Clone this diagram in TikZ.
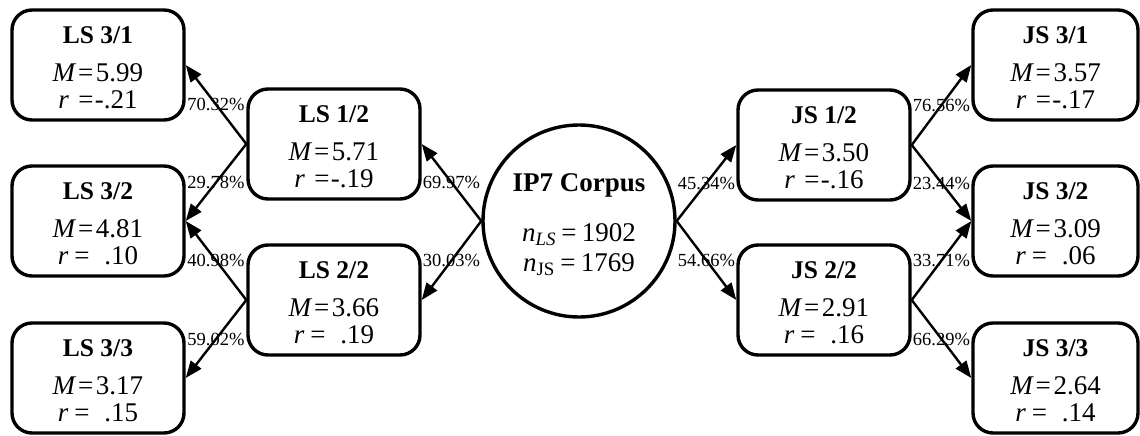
\documentclass[tikz,border=0pt]{standalone}
\usepackage{fontspec}
\setmainfont{Liberation Serif}
\usetikzlibrary{arrows.meta}

% value lines inside the boxes
\newcommand{\meanval}[1]{\textit{M}\hspace{0.06em}=\hspace{0.1em}#1}
\newcommand{\rneg}[1]{\textit{r}\hspace{0.35em}=\hspace{0.05em}-#1}
\newcommand{\rpos}[1]{\textit{r}\hspace{0.22em}=\hspace{0.55em}#1}
% box title, with struts fixing where the three lines sit in the box
\newcommand{\boxtext}[3]{\rule{0pt}{26.6pt}{\fontsize{25.5}{27}\selectfont\bfseries #1}\\[11.4pt]\meanval{#2}\\#3\rule[-5pt]{0pt}{5pt}}

\tikzset{
  stat/.style={draw, line width=3.4pt, rounded corners=20pt, align=center,
    minimum width=172pt, minimum height=110pt, inner sep=0pt,
    font=\fontsize{27}{27}\selectfont},
  statr/.style={stat, minimum width=165pt},
  corpus/.style={draw, circle, line width=3.4pt, minimum size=192pt, align=center,
    inner sep=0pt, font=\fontsize{27}{30}\selectfont},
  flow/.style={line width=2.4pt, -{Triangle[length=17pt,width=13pt]}},
  pct/.style={font=\fontsize{18.5}{20}\selectfont, inner sep=0pt}
}

\begin{document}
\begin{tikzpicture}[x=1pt,y=1pt]
\useasboundingbox (0,0) rectangle (1140,-436);

% centre
\node[corpus] (ip7) at (579,-221)
  {\rule{0pt}{29.4pt}\textbf{IP7 Corpus}\\[20pt]%
   \textit{n}\textsubscript{\textit{LS}}\hspace{0.2em}=\hspace{0.2em}1902\\%
   \textit{n}\textsubscript{JS}\hspace{0.2em}=\hspace{0.2em}1769\rule[-8pt]{0pt}{8pt}};

% LS branch
\node[stat] (ls12) at (334,-144) {\boxtext{LS 1/2}{5.71}{\rneg{.19}}};
\node[stat] (ls22) at (334,-300) {\boxtext{LS 2/2}{3.66}{\rpos{.19}}};
\node[stat] (ls31) at (98,-65)   {\boxtext{LS 3/1}{5.99}{\rneg{.21}}};
\node[stat] (ls32) at (98,-221)  {\boxtext{LS 3/2}{4.81}{\rpos{.10}}};
\node[stat] (ls33) at (98,-378)  {\boxtext{LS 3/3}{3.17}{\rpos{.15}}};

% JS branch
\node[stat] (js12) at (824,-145) {\boxtext{JS 1/2}{3.50}{\rneg{.16}}};
\node[stat] (js22) at (824,-300) {\boxtext{JS 2/2}{2.91}{\rpos{.16}}};
\node[statr] (js31) at (1055.5,-65)  {\boxtext{JS 3/1}{3.57}{\rneg{.17}}};
\node[statr] (js32) at (1055.5,-221) {\boxtext{JS 3/2}{3.09}{\rpos{.06}}};
\node[statr] (js33) at (1055.5,-378) {\boxtext{JS 3/3}{2.64}{\rpos{.14}}};

% transitions
\draw[flow] (ip7.west) -- node[pct] (p1) {69.97\%} (ls12.east);
\draw[flow] (ip7.west) -- node[pct] (p2) {30.03\%} (ls22.east);
\draw[flow] (ls12.west) -- node[pct] (p3) {70.32\%} (ls31.east);
\draw[flow] (ls12.west) -- node[pct] (p4) {29.78\%} (ls32.east);
\draw[flow] (ls22.west) -- node[pct] (p5) {40.98\%} (ls32.east);
\draw[flow] (ls22.west) -- node[pct] (p6) {59.02\%} (ls33.east);

\draw[flow] (ip7.east) -- node[pct] (p7) {45.34\%} (js12.west);
\draw[flow] (ip7.east) -- node[pct] (p8) {54.66\%} (js22.west);
\draw[flow] (js12.east) -- node[pct] (p9) {76.56\%} (js31.west);
\draw[flow] (js12.east) -- node[pct] (p10) {23.44\%} (js32.west);
\draw[flow] (js22.east) -- node[pct] (p11) {33.71\%} (js32.west);
\draw[flow] (js22.east) -- node[pct] (p12) {66.29\%} (js33.west);
\end{tikzpicture}
\end{document}
